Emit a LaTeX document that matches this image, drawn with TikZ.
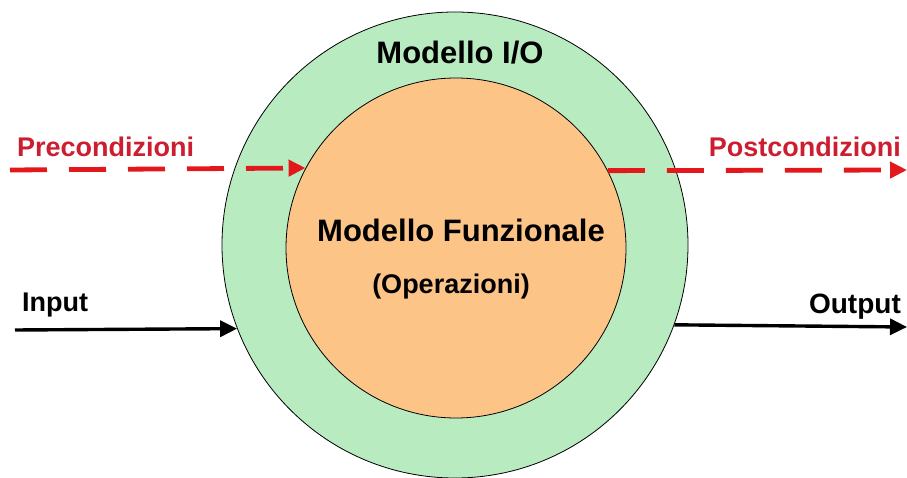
\documentclass[tikz,border=0pt]{standalone}
\usepackage{fontspec}
\setmainfont{Liberation Sans}
\usetikzlibrary{arrows.meta}
\definecolor{ringgreen}{RGB}{184,236,192}
\definecolor{coreorange}{RGB}{253,196,136}
\definecolor{condred}{RGB}{226,24,28}
\definecolor{condtext}{RGB}{204,30,48}

\begin{document}
\begin{tikzpicture}[x=1pt,y=-1pt,
    cond/.style={draw=condred,line width=4.8pt,dash pattern=on 37pt off 22pt,-{Triangle[length=17pt,width=16pt]}},
    flow/.style={line width=3.4pt,-{Triangle[length=17pt,width=16pt]}},
    lbl/.style={font=\bfseries\fontsize{27}{32}\selectfont,inner sep=0pt},
    condlbl/.style={lbl,text=condtext,font=\bfseries\fontsize{27}{32}\selectfont},
    title/.style={font=\bfseries\fontsize{31}{36}\selectfont,inner sep=0pt}]
  \useasboundingbox (0,0) rectangle (907,478);
  \node[circle,draw,line width=0.8pt,fill=ringgreen,minimum size=466pt,inner sep=0pt] (io) at (455,245) {};
  \node[circle,draw,line width=0.8pt,fill=coreorange,minimum size=340pt,inner sep=0pt] (funz) at (456,248) {};
  \node[title,anchor=base] (iotitle) at (460,64) {Modello I/O};
  \node[title,anchor=base] (funztitle) at (461,242) {Modello Funzionale};
  \node[lbl,anchor=base] (oper) at (451,294) {(Operazioni)};
  % condizioni
  \node[condlbl,anchor=base west] (pre) at (17,157) {Precondizioni};
  \node[condlbl,anchor=base east] (post) at (901,157) {Postcondizioni};
  \coordinate (preL) at (10,170);
  \coordinate (postR) at (907,170);
  \draw[cond] (preL) -- (funz.152.5);
  \draw[cond] (funz.27.5) -- (postR);
  % input / output
  \node[lbl,anchor=base west] (in) at (22,311) {Input};
  \node[lbl,font=\bfseries\fontsize{28}{32}\selectfont,anchor=base east] (out) at (901,313) {Output};
  \coordinate (inL) at (15,330);
  \coordinate (outR) at (907,327);
  \draw[flow] (inL) -- (io.201.4);
  \draw[flow] (io.-20.6) -- (outR);
\end{tikzpicture}
\end{document}
